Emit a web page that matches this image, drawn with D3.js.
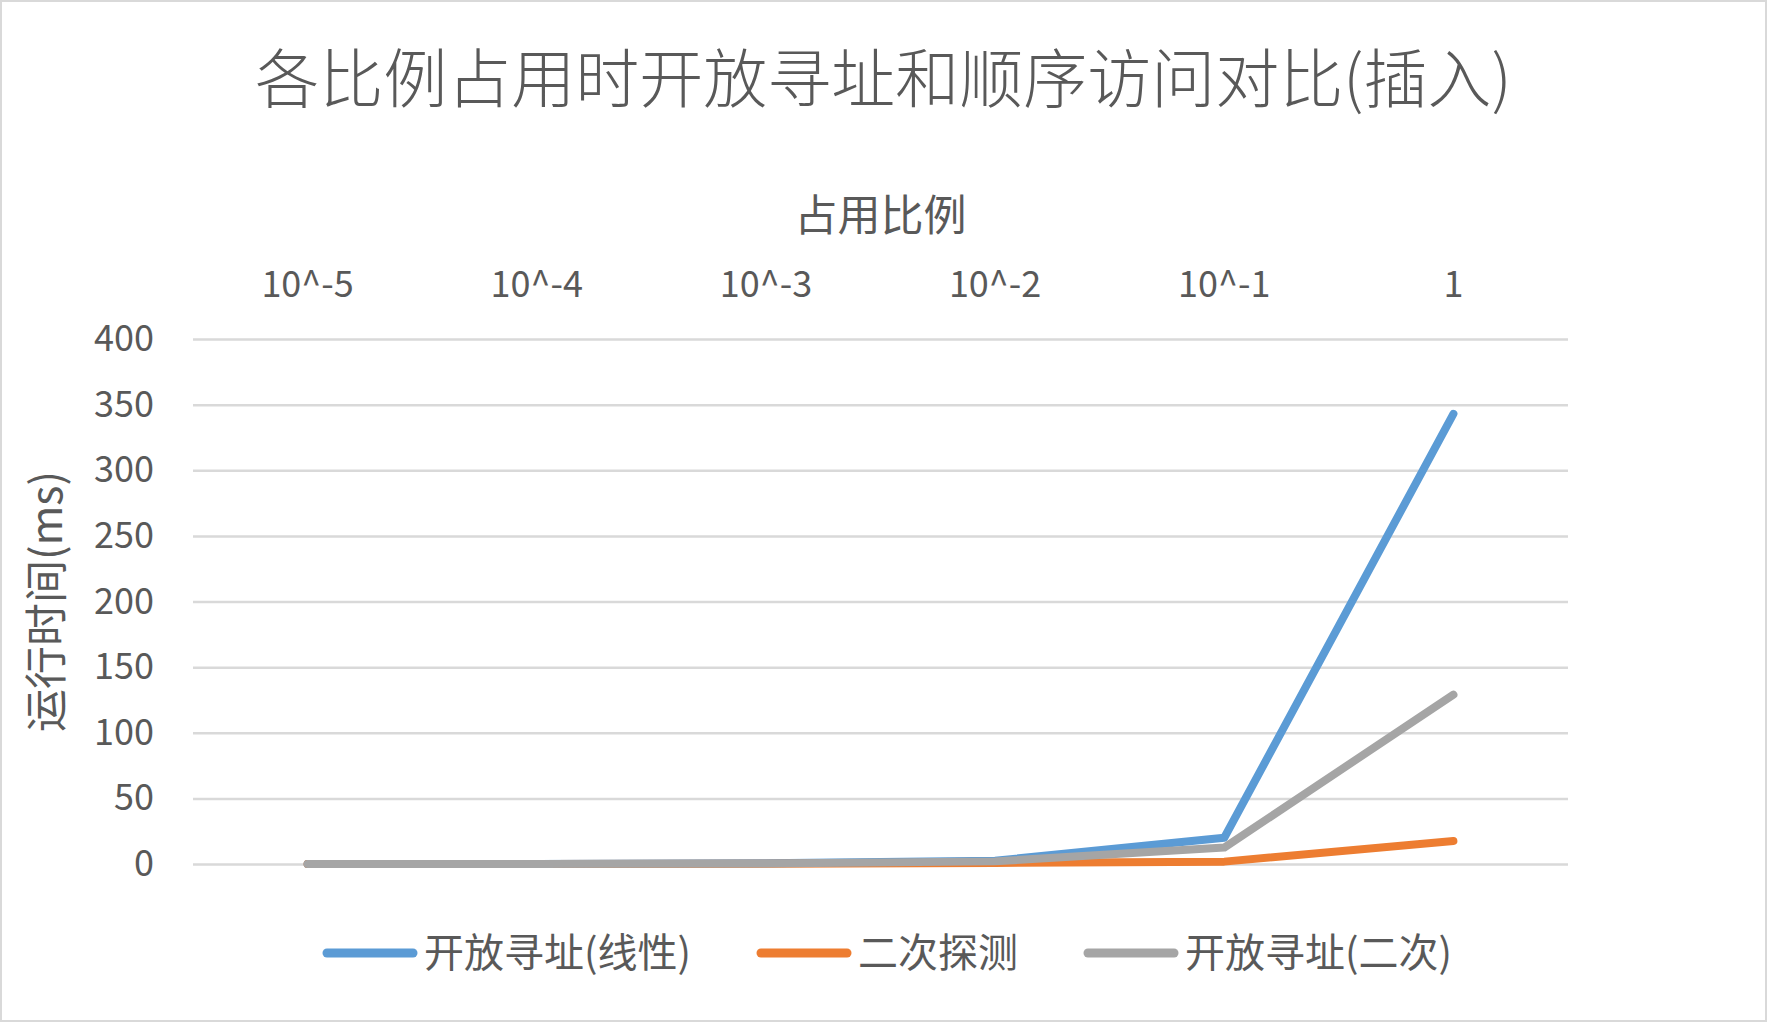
<!DOCTYPE html>
<html>
<head>
<meta charset="utf-8">
<script src="https://cdn.jsdelivr.net/npm/d3@7"></script>
<style>
  body { margin: 0; background: #fff; }
  text { font-family: "Noto Sans CJK SC", "Noto Sans", sans-serif; fill: #595959; }
</style>
</head>
<body>
<div id="chart"></div>
<script>
// data
const categories = ["10^-5", "10^-4", "10^-3", "10^-2", "10^-1", "1"];
const linear = [0.01, 0.05, 0.5, 2.5, 20, 343];
const quadProbe = [0.01, 0.03, 0.2, 0.8, 1.8, 17.5];
const openQuad = [0.01, 0.05, 0.4, 2, 12.5, 129];
const yTicks = [0, 50, 100, 150, 200, 250, 300, 350, 400];

const seriesNames = ["开放寻址(线性)", "二次探测", "开放寻址(二次)"];
const seriesColors = ["#5b9bd5", "#ed7d31", "#a5a5a5"];
const series = [linear, quadProbe, openQuad];

const W = 1767, H = 1022;
const plot = { left: 193, right: 1568, top: 339, bottom: 864 };

const svg = d3.select("#chart")
  .append("svg")
    .attr("width", W)
    .attr("height", H);

// outer border
svg.append("rect")
  .attr("x", 1).attr("y", 1)
  .attr("width", W - 2).attr("height", H - 2)
  .attr("fill", "#fff")
  .attr("stroke", "#d9d9d9")
  .attr("stroke-width", 2);

const x = d3.scaleBand()
  .domain(categories)
  .range([plot.left, plot.right])
  .padding(0);

const y = d3.scaleLinear()
  .domain([0, 400])
  .range([plot.bottom, plot.top]);

// y axis with gridlines
const yAxis = svg.append("g")
  .attr("transform", `translate(${plot.left},0)`)
  .call(d3.axisLeft(y)
    .tickValues(yTicks)
    .tickSize(-(plot.right - plot.left))
    .tickPadding(39));
yAxis.select(".domain").remove();
yAxis.selectAll(".tick line")
  .attr("stroke", "#d9d9d9")
  .attr("stroke-width", 2.5);
yAxis.selectAll(".tick text")
  .style("font-size", "36px")
  .attr("fill", "#595959");

// x axis on top
const xAxis = svg.append("g")
  .attr("transform", `translate(0,${plot.top})`)
  .call(d3.axisTop(x).tickSize(0).tickPadding(42));
xAxis.select(".domain").remove();
xAxis.selectAll(".tick text")
  .style("font-size", "36px")
  .attr("fill", "#595959");

// lines
const line = d3.line()
  .x((d, i) => x(categories[i]) + x.bandwidth() / 2)
  .y(d => y(d));

series.forEach((s, i) => {
  svg.append("path")
    .datum(s)
    .attr("fill", "none")
    .attr("stroke", seriesColors[i])
    .attr("stroke-width", 8)
    .attr("stroke-linecap", "round")
    .attr("stroke-linejoin", "round")
    .attr("d", line);
});

// title
svg.append("text")
  .attr("x", W / 2)
  .attr("y", 79)
  .attr("dy", "0.36em")
  .style("text-anchor", "middle")
  .style("font-size", "64px")
  .style("font-weight", 300)
  .text("各比例占用时开放寻址和顺序访问对比(插入)");

// x axis name
svg.append("text")
  .attr("x", (plot.left + plot.right) / 2)
  .attr("y", 216)
  .attr("dy", "0.36em")
  .style("text-anchor", "middle")
  .style("font-size", "43px")
  .text("占用比例");

// y axis name
svg.append("text")
  .attr("transform", `translate(47,${(plot.top + plot.bottom) / 2}) rotate(-90)`)
  .attr("dy", "0.36em")
  .style("text-anchor", "middle")
  .style("font-size", "43px")
  .text("运行时间(ms)");

// legend
const legendX = [323, 757, 1084];
const legend = svg.append("g");
seriesNames.forEach((name, i) => {
  const g = legend.append("g").attr("transform", `translate(${legendX[i]},953)`);
  g.append("line")
    .attr("x1", 4).attr("x2", 90)
    .attr("y1", 0).attr("y2", 0)
    .attr("stroke", seriesColors[i])
    .attr("stroke-width", 9)
    .attr("stroke-linecap", "round");
  g.append("text")
    .attr("x", 101)
    .attr("dy", "0.36em")
    .style("font-size", "40px")
    .text(name);
});
</script>
</body>
</html>
